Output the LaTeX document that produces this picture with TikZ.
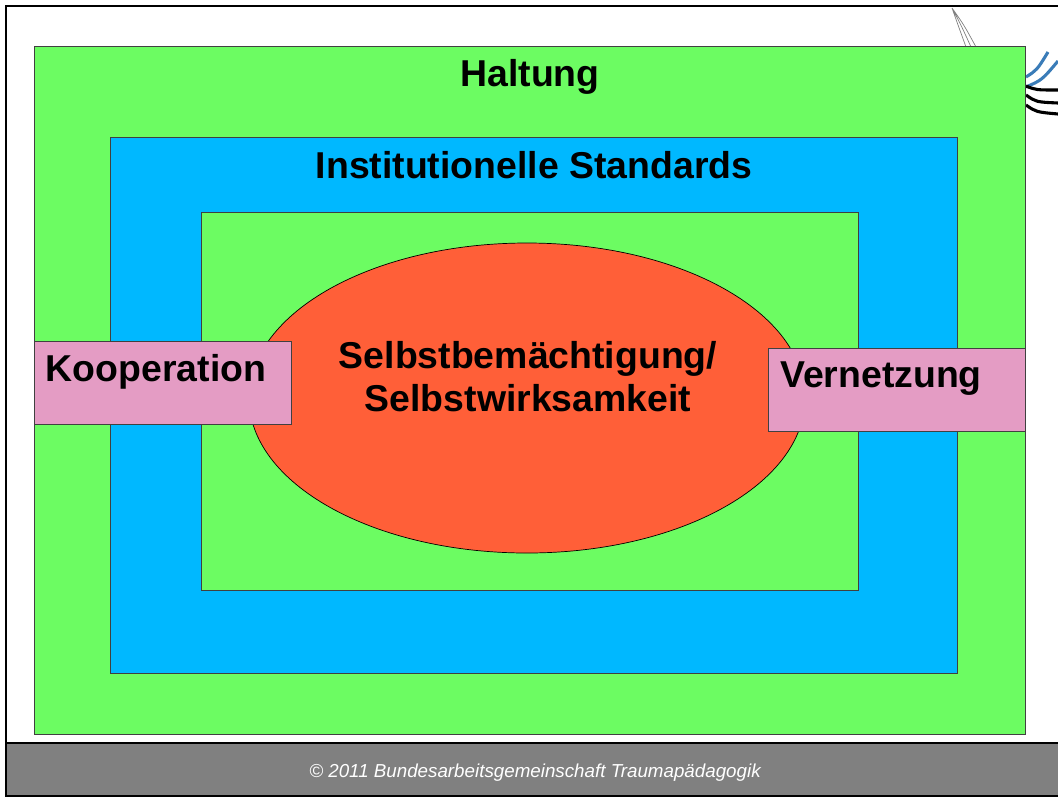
\documentclass[tikz,border=0pt]{standalone}
\usepackage{fontspec}
\setmainfont{Liberation Sans}
\usetikzlibrary{shapes.geometric,positioning}
\definecolor{framegreen}{HTML}{6CFC62}
\definecolor{frameblue}{HTML}{00B8FF}
\definecolor{corered}{HTML}{FF5F38}
\definecolor{tagpink}{HTML}{E49CC4}
\definecolor{footgray}{HTML}{808080}
\definecolor{logoblue}{HTML}{3A7CB8}
\tikzset
{
    panel/.style   = {rectangle, draw=black!75, line width=0.5pt, inner sep=0pt},
    core/.style    = {ellipse, draw=black, line width=0.5pt, fill=corered, inner sep=0pt, minimum width=556*0.025cm, minimum height=310*0.025cm},
    tag/.style     = {panel, fill=tagpink, minimum width=257*0.025cm, minimum height=83*0.025cm},
    heading/.style = {font=\bfseries\fontsize{26.6}{30.6}\selectfont, text=black, inner sep=0pt, align=center}
}
\begin{document}
\begin{tikzpicture}[x=0.025cm,y=-0.025cm]
\useasboundingbox (0,0) rectangle (1058,798);
% logo behind the panels
\draw[black!50, line width=0.5pt] (952,8) .. controls (958,25) .. (966,47) (952,8) .. controls (961,25) .. (971,47) (952,8) .. controls (964,25) .. (976,47);
\draw[logoblue, line width=2.2pt] (1026,77) .. controls (1037,70) .. (1048,52) (1026,87) .. controls (1042,80) .. (1058,61);
\draw[black, line width=2.2pt] (1026,86) .. controls (1036,90) .. (1058,90) (1026,95) .. controls (1036,102) .. (1058,103) (1026,105) .. controls (1036,112) .. (1058,114);
% nested panels
\node [panel, fill=framegreen, minimum width=991*0.025cm, minimum height=688*0.025cm] at (530.2,390.8) (haltung) {};
\node [panel, fill=frameblue, minimum width=847*0.025cm, minimum height=536*0.025cm] at (534.2,405.8) (standards) {};
\node [panel, fill=framegreen, minimum width=657*0.025cm, minimum height=378*0.025cm] at (530.2,401.8) (inner) {};
\node [core] at (527,398) (selbst) {};
\node [tag] at (163.2,383.3) (kooperation) {};
\node [tag] at (897.2,390.3) (vernetzung) {};
% texts
\node [heading] at (530,77) (haltungtext) {Haltung};
\node [heading] at (534,165) (standardstext) {Institutionelle Standards};
\node [heading] at (528,376.5) (selbsttext) {Selbstbemächtigung/\\Selbstwirksamkeit};
\node [heading] at (156,372) (kooperationtext) {Kooperation};
\node [heading] at (881,379) (vernetzungtext) {Vernetzung};
% footer and frame
\fill[footgray] (6,743) rectangle (1058,796);
\draw[black, line width=0.8pt] (6,743) -- (1058,743);
\draw[black, line width=1.4pt] (1058,6) -- (6,6) -- (6,796) -- (1058,796);
\node [font=\itshape\fontsize{13.35}{16}\selectfont, text=white, inner sep=0pt] at (535,773) (footer) {© 2011 Bundesarbeitsgemeinschaft Traumapädagogik};
\end{tikzpicture}
\end{document}
